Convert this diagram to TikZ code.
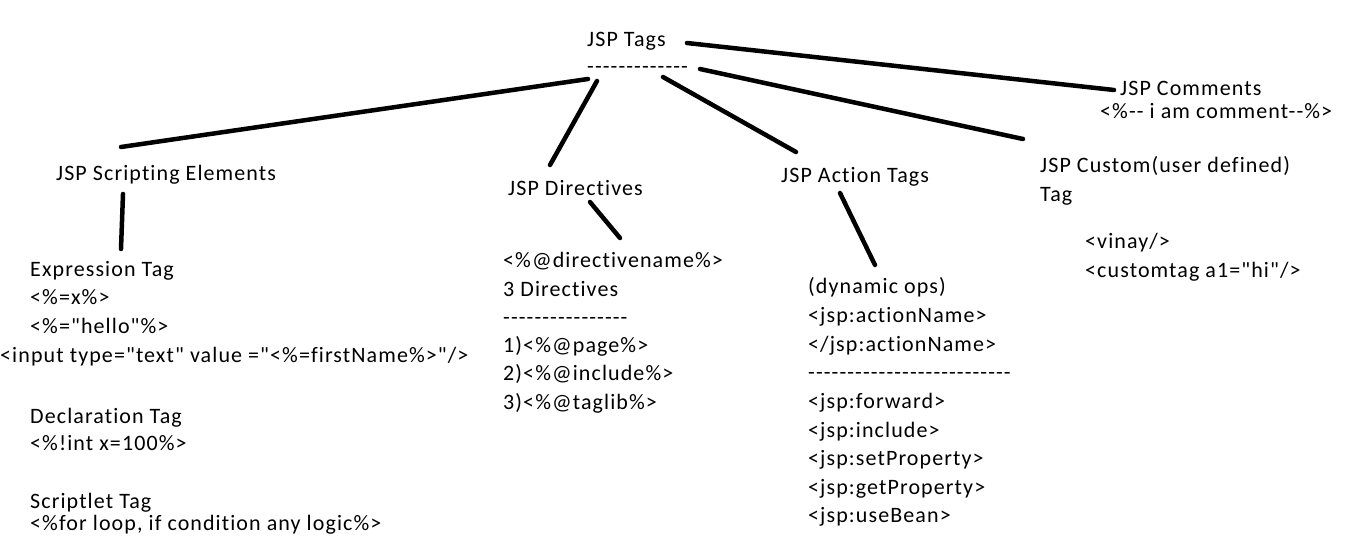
\documentclass[tikz,border=0pt]{standalone}
\usepackage{fontspec}
\setmainfont{Carlito}[Ligatures={TeXOff,CommonOff}, LetterSpace=5]

\begin{document}
\begin{tikzpicture}[x=1pt, y=-1pt,
	every node/.style={font=\fontsize{22}{26}\selectfont, inner sep=0pt, anchor=base west},
	branch/.style={line width=4.5pt, line cap=round}]
	\path[use as bounding box, fill=white] (0,0) rectangle (1357,553);
	% root and top level
	\node (tags) at (587,47) {JSP Tags};
	\node (dash) at (587,74) {-------------};
	\node (comments) at (1120,96) {JSP Comments};
	\node (commentex) at (1100,119) {<\%-- i am comment--\%>};
	\node (script) at (56,181) {JSP Scripting Elements};
	\node (direc) at (508,196) {JSP Directives};
	\node (action) at (781,183) {JSP Action Tags};
	\node (custom) at (1040,173) {JSP Custom(user defined)};
	\node (customtag) at (1040,202) {Tag};
	\node (vinay) at (1085,249) {<vinay/>};
	\node (ctag) at (1085,278) {<customtag a1="hi"/>};
	% scripting elements
	\node (expr) at (30,277) {Expression Tag};
	\node (exprx) at (30,305) {<\%=x\%>};
	\node (exprhello) at (30,333) {<\%="hello"\%>};
	\node (exprinput) at (0,362) {<input type="text" value ="<\%=firstName\%>"/>};
	\node (decl) at (30,423) {Declaration Tag};
	\node (declx) at (30,450) {<\%!int x=100\%>};
	\node (scriptlet) at (30,508) {Scriptlet Tag};
	\node (scriptletx) at (30,530) {<\%for loop, if condition any logic\%>};
	% directives
	\foreach \itemtext [count=\i from 0] in {<\%@directivename\%>, 3 Directives, ----------------, 1)<\%@page\%>, 2)<\%@include\%>, 3)<\%@taglib\%>}
		\node (dir\i) at (503,268+28.2*\i) {\itemtext};
	% action tags
	\foreach \itemtext [count=\i from 0] in {{(dynamic ops)}, <jsp:actionName>, </jsp:actionName>, --------------------------, <jsp:forward>, <jsp:include>, <jsp:setProperty>, <jsp:getProperty>, <jsp:useBean>}
		\node (act\i) at (808,294+28.6*\i) {\itemtext};
	% branches
	\draw[branch] ([shift={(100,-4)}]tags.base west) -- ([shift={(-6,-6)}]comments.base west);
	\draw[branch] ([shift={(1,5)}]dash.base west) -- ([shift={(65,-34)}]script.base west);
	\draw[branch] ([shift={(10,7)}]dash.base west) -- ([shift={(42,-31)}]direc.base west);
	\draw[branch] ([shift={(76,3)}]dash.base west) -- ([shift={(15,-31)}]action.base west);
	\draw[branch] ([shift={(113,-5)}]dash.base west) -- ([shift={(-17,-34)}]custom.base west);
	\draw[branch] ([shift={(67,13)}]script.base west) -- ([shift={(91,-28)}]expr.base west);
	\draw[branch] ([shift={(82,6)}]direc.base west) -- ([shift={(117,-30)}]dir0.base west);
	\draw[branch] ([shift={(59,10)}]action.base west) -- ([shift={(67,-29)}]act0.base west);
\end{tikzpicture}
\end{document}
